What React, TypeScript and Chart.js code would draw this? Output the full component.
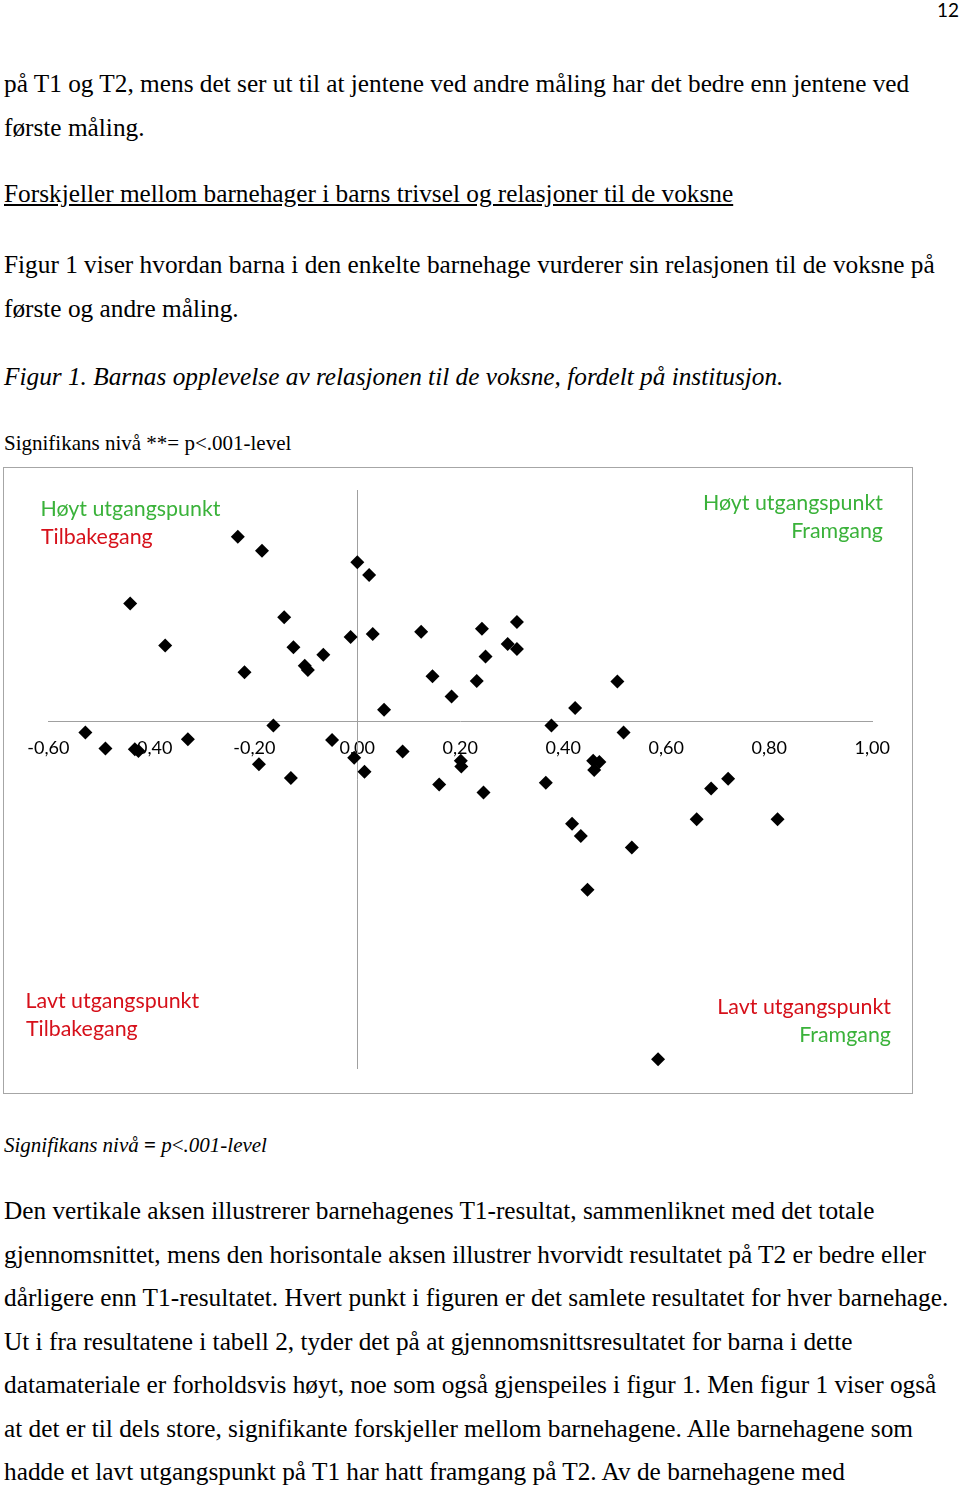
import React, { useEffect, useRef } from "react";
import { Chart, registerables } from "chart.js";

Chart.register(...registerables);

// Horisontal akse: endring fra T1 til T2
const endringT2 = [
  -0.232, -0.185, -0.441, -0.142, -0.373, -0.124, -0.219, -0.102, -0.096, -0.066,
  0.0, 0.023, -0.013, 0.03, 0.124, 0.242, 0.31, 0.249, 0.292, 0.31,
  0.146, 0.183, 0.232, 0.052, 0.505, 0.423, -0.528, -0.489, -0.432, -0.425,
  -0.329, -0.163, -0.191, -0.129, -0.049, -0.006, 0.014, 0.088, 0.201, 0.202,
  0.159, 0.245, 0.377, 0.366, 0.517, 0.458, 0.47, 0.46, 0.72, 0.687,
  0.659, 0.816, 0.417, 0.434, 0.533, 0.447, 0.584,
];

// Vertikal akse: T1-resultat sammenliknet med det totale gjennomsnittet
const utgangspunktT1 = [
  0.319, 0.295, 0.204, 0.18, 0.131, 0.128, 0.085, 0.096, 0.089, 0.115,
  0.275, 0.253, 0.146, 0.151, 0.155, 0.16, 0.172, 0.112, 0.134, 0.125,
  0.078, 0.043, 0.07, 0.02, 0.069, 0.023, -0.019, -0.047, -0.048, -0.051,
  -0.031, -0.007, -0.074, -0.098, -0.032, -0.063, -0.087, -0.052, -0.068, -0.078,
  -0.109, -0.123, -0.007, -0.106, -0.019, -0.068, -0.07, -0.084, -0.099, -0.116,
  -0.169, -0.169, -0.177, -0.198, -0.218, -0.291, -0.584,
];

const xTickValues = [-0.6, -0.4, -0.2, 0, 0.2, 0.4, 0.6, 0.8, 1.0];
const yRange = [-0.6, 0.4];

const topLines = [
  "på T1 og T2, mens det ser ut til at jentene ved andre måling har det bedre enn jentene ved",
  "første måling.",
];
const heading = "Forskjeller mellom barnehager i barns trivsel og relasjoner til de voksne";
const introLines = [
  "Figur 1 viser hvordan barna i den enkelte barnehage vurderer sin relasjonen til de voksne på",
  "første og andre måling.",
];
const caption = "Figur 1. Barnas opplevelse av relasjonen til de voksne, fordelt på institusjon.";
const sigNote = "Signifikans nivå **= p<.001-level";
const paragraphLines = [
  "Den vertikale aksen illustrerer barnehagenes T1-resultat, sammenliknet med det totale",
  "gjennomsnittet, mens den horisontale aksen illustrer hvorvidt resultatet på T2 er bedre eller",
  "dårligere enn T1-resultatet. Hvert punkt i figuren er det samlete resultatet for hver barnehage.",
  "Ut i fra resultatene i tabell 2, tyder det på at gjennomsnittsresultatet for barna i dette",
  "datamateriale er forholdsvis høyt, noe som også gjenspeiles i figur 1. Men figur 1 viser også",
  "at det er til dels store, signifikante forskjeller mellom barnehagene. Alle barnehagene som",
  "hadde et lavt utgangspunkt på T1 har hatt framgang på T2. Av de barnehagene med",
];

const SERIF = '"Liberation Serif", "Times New Roman", serif';
const SANS = 'Lato, "Open Sans", sans-serif';
const GREEN = "rgb(58,178,58)";
const RED = "rgb(214,16,26)";
const BODY = 25.3;
const SERIF_ASC = 0.8375;
const SANS_ASC = 0.887;

function Line(props: {
  text: React.ReactNode;
  baseline: number;
  size?: number;
  italic?: boolean;
  underline?: boolean;
  left?: number;
}) {
  const size = props.size ?? BODY;
  return (
    <div
      style={{
        position: "absolute",
        left: props.left ?? 4,
        top: props.baseline - size * SERIF_ASC,
        fontFamily: SERIF,
        fontSize: size,
        lineHeight: `${size}px`,
        whiteSpace: "nowrap",
        fontStyle: props.italic ? "italic" : "normal",
        textDecoration: props.underline ? "underline" : "none",
        color: "#000",
      }}
    >
      {props.text}
    </div>
  );
}

const LABEL_SIZE = 21.4;
function Label(props: { text: string; baseline: number; left?: number; right?: number; color: string }) {
  const style: React.CSSProperties = {
    position: "absolute",
    top: props.baseline - LABEL_SIZE * SANS_ASC,
    fontFamily: SANS,
    fontSize: LABEL_SIZE,
    lineHeight: `${LABEL_SIZE}px`,
    whiteSpace: "nowrap",
    color: props.color,
  };
  if (props.left !== undefined) style.left = props.left;
  if (props.right !== undefined) {
    style.right = 960 - props.right;
    style.textAlign = "right";
  }
  return <div style={style}>{props.text}</div>;
}

function ScatterChart() {
  const ref = useRef<HTMLCanvasElement | null>(null);
  useEffect(() => {
    if (!ref.current) return;
    const points = endringT2.map((x, i) => ({ x, y: utgangspunktT1[i] }));
    const chart = new Chart(ref.current, {
      type: "scatter",
      data: {
        datasets: [
          {
            data: points,
            pointStyle: "rectRot",
            pointRadius: 7,
            pointHoverRadius: 7,
            backgroundColor: "#000",
            borderColor: "#000",
            borderWidth: 0,
          },
        ],
      },
      options: {
        responsive: false,
        animation: false,
        layout: { padding: { left: 48.3, right: 87.7, top: 30, bottom: 31.5 } },
        plugins: { legend: { display: false }, tooltip: { enabled: false } },
        scales: {
          x: {
            type: "linear",
            min: xTickValues[0],
            max: xTickValues[xTickValues.length - 1],
            position: { y: 0 } as any,
            afterBuildTicks: (scale: any) => {
              scale.ticks = xTickValues.map((v) => ({ value: v }));
            },
            grid: { display: false, drawTicks: false },
            border: { display: true, color: "#a0a0a0", width: 1 },
            ticks: {
              autoSkip: false,
              maxRotation: 0,
              padding: 16,
              color: "#000",
              font: { family: SANS, size: 18 },
              callback: (v: any) => {
                const r = Math.round(Number(v) * 100) / 100;
                return (r === 0 ? 0 : r).toFixed(2).replace(".", ",");
              },
            },
          },
          y: {
            type: "linear",
            min: yRange[0],
            max: yRange[1],
            position: { x: 0 } as any,
            grid: { display: false, drawTicks: false },
            border: { display: true, color: "#a0a0a0", width: 1 },
            ticks: { display: false },
          },
        },
      },
    });
    return () => chart.destroy();
  }, []);
  return (
    <canvas
      ref={ref}
      width={960}
      height={640}
      style={{ position: "absolute", left: 0, top: 460, width: 960, height: 640 }}
    />
  );
}

export default function App() {
  return (
    <div
      style={{
        position: "absolute",
        left: 0,
        top: 0,
        width: 960,
        height: 1491,
        overflow: "hidden",
        background: "#fff",
      }}
    >
      <div
        style={{
          position: "absolute",
          left: 937,
          top: 17 - 19 * SANS_ASC,
          fontFamily: SANS,
          fontSize: 19,
          lineHeight: "19px",
          color: "#000",
        }}
      >
        12
      </div>

      <Line text={topLines[0]} baseline={92.5} />
      <Line text={topLines[1]} baseline={136} />
      <Line text={heading} baseline={202.5} underline />
      <Line text={introLines[0]} baseline={273.5} />
      <Line text={introLines[1]} baseline={317.5} />
      <Line text={caption} baseline={385.5} italic />
      <Line text={sigNote} baseline={450.5} size={21} />

      <div
        style={{
          position: "absolute",
          left: 3,
          top: 467,
          width: 910,
          height: 627,
          boxSizing: "border-box",
          border: "1px solid #a6a6a6",
        }}
      />
      <ScatterChart />

      <Label text="Høyt utgangspunkt" baseline={517.3} left={40.5} color={GREEN} />
      <Label text="Tilbakegang" baseline={545.3} left={41} color={RED} />
      <Label text="Høyt utgangspunkt" baseline={510.8} right={883} color={GREEN} />
      <Label text="Framgang" baseline={539} right={883} color={GREEN} />
      <Label text="Lavt utgangspunkt" baseline={1008.8} left={25.5} color={RED} />
      <Label text="Tilbakegang" baseline={1036.8} left={26} color={RED} />
      <Label text="Lavt utgangspunkt" baseline={1014.8} right={891} color={RED} />
      <Label text="Framgang" baseline={1042.8} right={891} color={GREEN} />

      <Line
        text={
          <>
            <i>Signifikans nivå </i>
            <b>=</b>
            <i> p</i>&lt;<i>.001-level</i>
          </>
        }
        baseline={1152.5}
        size={21}
      />

      {paragraphLines.map((t, i) => (
        <Line key={i} text={t} baseline={1219.5 + i * 43.5} />
      ))}
    </div>
  );
}
